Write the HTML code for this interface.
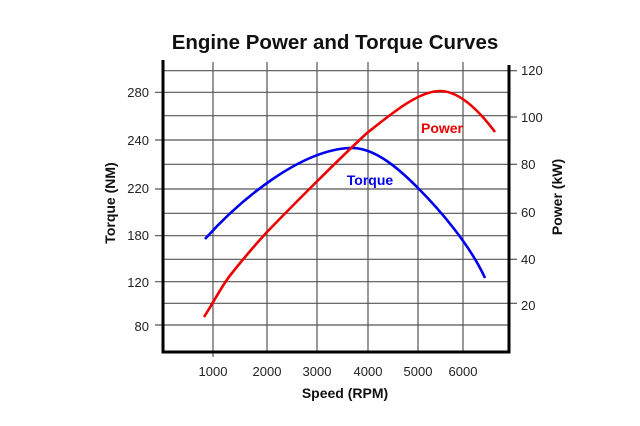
<!DOCTYPE html>
<html><head><meta charset="utf-8"><style>
html,body{margin:0;padding:0;background:#fff;}
svg{display:block;font-family:"Liberation Sans",Arial,sans-serif;}
</style></head><body>
<svg width="640" height="426" viewBox="0 0 640 426" xmlns="http://www.w3.org/2000/svg">
<rect width="640" height="426" fill="#fff"/>
<text x="335" y="49" font-size="20.5" font-weight="bold" text-anchor="middle" fill="#111">Engine Power and Torque Curves</text>
<g stroke="#555" stroke-width="1.2">
<line x1="163" y1="70.7" x2="509" y2="70.7"/>
<line x1="155" y1="92.3" x2="509" y2="92.3"/>
<line x1="163" y1="115.7" x2="509" y2="115.7"/>
<line x1="155" y1="140" x2="509" y2="140"/>
<line x1="163" y1="164.3" x2="509" y2="164.3"/>
<line x1="155" y1="189" x2="509" y2="189"/>
<line x1="163" y1="213.3" x2="509" y2="213.3"/>
<line x1="155" y1="235.7" x2="509" y2="235.7"/>
<line x1="163" y1="259.3" x2="509" y2="259.3"/>
<line x1="155" y1="281.7" x2="509" y2="281.7"/>
<line x1="163" y1="303.3" x2="509" y2="303.3"/>
<line x1="155" y1="325" x2="509" y2="325"/>
<line x1="509" y1="70.7" x2="517" y2="70.7"/>
<line x1="509" y1="117" x2="517" y2="117"/>
<line x1="509" y1="164.3" x2="517" y2="164.3"/>
<line x1="509" y1="213.3" x2="517" y2="213.3"/>
<line x1="509" y1="259.3" x2="517" y2="259.3"/>
<line x1="509" y1="303.3" x2="517" y2="303.3"/>
<line x1="213" y1="62" x2="213" y2="357"/>
<line x1="267" y1="62" x2="267" y2="352"/>
<line x1="317" y1="62" x2="317" y2="352"/>
<line x1="368" y1="62" x2="368" y2="352"/>
<line x1="418" y1="62" x2="418" y2="352"/>
<line x1="463" y1="62" x2="463" y2="352"/>
</g>
<g stroke="#000" stroke-width="3" fill="none">
<polyline points="163,60 163,352 509,352 509,65"/>
</g>
<path d="M205,239 C240,200 300,150 350,148 C375,147 400,170 417,187 C440,210 470,245 485,278" fill="none" stroke="#0000ee" stroke-width="2.6"/>
<path d="M204,317 C215,300 222,285 232,273 C244,258 255,245 267,232 C294,204 340,158 367,133 C390,115 418,91 440,91 C460,91 480,112 495,132" fill="none" stroke="#ee0000" stroke-width="2.6"/>
<text x="442" y="133" font-size="14" font-weight="bold" fill="#ee0000" text-anchor="middle">Power</text>
<text x="370" y="185" font-size="14" font-weight="bold" fill="#0000ee" text-anchor="middle">Torque</text>
<g font-size="13" fill="#222" text-anchor="end">
<text x="149" y="97">280</text>
<text x="149" y="145">240</text>
<text x="149" y="193">220</text>
<text x="149" y="240">180</text>
<text x="149" y="287">120</text>
<text x="149" y="331">80</text>
</g>
<g font-size="13" fill="#222">
<text x="521" y="75">120</text>
<text x="521" y="122">100</text>
<text x="521" y="169">80</text>
<text x="521" y="217">60</text>
<text x="521" y="264">40</text>
<text x="521" y="310">20</text>
</g>
<g font-size="13" fill="#222" text-anchor="middle">
<text x="213" y="376">1000</text>
<text x="267" y="376">2000</text>
<text x="317" y="376">3000</text>
<text x="368" y="376">4000</text>
<text x="418" y="376">5000</text>
<text x="463" y="376">6000</text>
</g>
<text x="345" y="398" font-size="14" font-weight="bold" text-anchor="middle" fill="#111">Speed (RPM)</text>
<text transform="translate(115,203) rotate(-90)" font-size="14" font-weight="bold" text-anchor="middle" fill="#111">Torque (NM)</text>
<text transform="translate(562,197) rotate(-90)" font-size="14" font-weight="bold" text-anchor="middle" fill="#111">Power (kW)</text>
</svg>
</body></html>
